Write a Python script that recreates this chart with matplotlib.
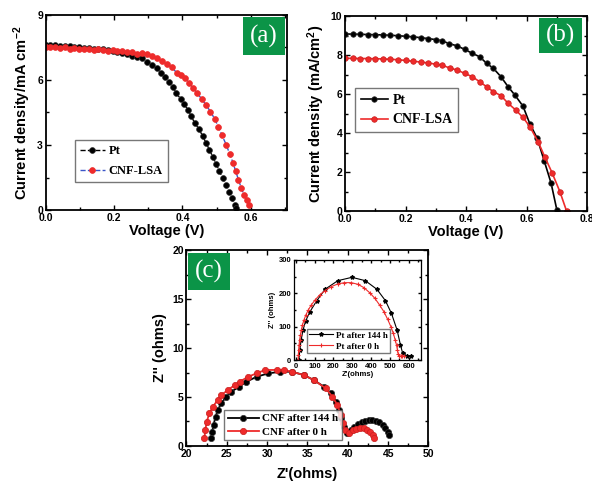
import matplotlib
matplotlib.use("Agg")
import matplotlib.pyplot as plt
from matplotlib.ticker import MultipleLocator
from matplotlib.patches import Rectangle

plt.rcParams['font.family'] = ['Liberation Sans', 'DejaVu Sans']
plt.rcParams['font.weight'] = 'bold'
plt.rcParams['axes.labelweight'] = 'bold'
plt.rcParams['mathtext.fontset'] = 'custom'
plt.rcParams['mathtext.rm'] = 'Liberation Sans:bold'
plt.rcParams['mathtext.it'] = 'Liberation Sans:bold'
plt.rcParams['mathtext.bf'] = 'Liberation Sans:bold'

RED = '#ee2b2b'
GREEN = '#0b9447'
SERIF = 'Liberation Serif'

# --- (a) J-V curves ---
v_pt_a = [0.000, 0.014, 0.028, 0.042, 0.056, 0.070, 0.084, 0.098, 0.112, 0.126, 0.140, 0.154,
          0.168, 0.182, 0.196, 0.210, 0.224, 0.238, 0.252, 0.266, 0.281, 0.296, 0.310, 0.325,
          0.337, 0.349, 0.360, 0.371, 0.382, 0.395, 0.405, 0.416, 0.426, 0.436, 0.449, 0.459,
          0.469, 0.479, 0.489, 0.498, 0.508, 0.518, 0.528, 0.536, 0.544, 0.553, 0.558]
j_pt_a = [7.62, 7.60, 7.63, 7.58, 7.55, 7.56, 7.52, 7.50, 7.48, 7.47, 7.45, 7.43,
          7.42, 7.38, 7.35, 7.30, 7.25, 7.18, 7.12, 7.06, 7.00, 6.85, 6.69, 6.54,
          6.34, 6.15, 5.92, 5.69, 5.40, 5.12, 4.90, 4.62, 4.32, 4.02, 3.72, 3.42,
          3.10, 2.78, 2.45, 2.14, 1.80, 1.46, 1.14, 0.85, 0.54, 0.23, 0.08]

v_cnf_a = [0.000, 0.014, 0.028, 0.042, 0.056, 0.070, 0.084, 0.098, 0.112, 0.126, 0.140, 0.154,
           0.168, 0.182, 0.196, 0.210, 0.224, 0.238, 0.252, 0.266, 0.281, 0.296, 0.310, 0.325,
           0.339, 0.354, 0.369, 0.383, 0.396, 0.408, 0.420, 0.432, 0.444, 0.457, 0.469, 0.482,
           0.494, 0.505, 0.516, 0.528, 0.538, 0.548, 0.556, 0.564, 0.572, 0.580, 0.588, 0.595]
j_cnf_a = [7.52, 7.50, 7.50, 7.47, 7.50, 7.45, 7.46, 7.43, 7.45, 7.41, 7.40, 7.42,
           7.37, 7.36, 7.38, 7.32, 7.34, 7.28, 7.30, 7.22, 7.26, 7.18, 7.11, 7.00,
           6.89, 6.74, 6.58, 6.34, 6.25, 6.08, 5.85, 5.62, 5.38, 5.11, 4.85, 4.54,
           4.22, 3.84, 3.44, 3.02, 2.60, 2.18, 1.78, 1.40, 1.02, 0.70, 0.45, 0.22]

# --- (b) J-V curves ---
v_pt_b = [0.000, 0.025, 0.050, 0.075, 0.100, 0.125, 0.150, 0.175, 0.200, 0.225, 0.250, 0.275,
          0.300, 0.320, 0.345, 0.370, 0.395, 0.420, 0.445, 0.468, 0.490, 0.515, 0.539, 0.561,
          0.588, 0.611, 0.635, 0.658, 0.681, 0.700]
j_pt_b = [9.08, 9.07, 9.06, 9.05, 9.04, 9.03, 9.01, 8.99, 8.96, 8.93, 8.89, 8.84,
          8.79, 8.73, 8.58, 8.47, 8.29, 8.09, 7.91, 7.57, 7.32, 6.89, 6.37, 5.95,
          5.38, 4.46, 3.73, 2.58, 1.42, 0.05]

v_cnf_b = [0.000, 0.025, 0.050, 0.075, 0.100, 0.125, 0.150, 0.175, 0.200, 0.225, 0.250, 0.275,
           0.300, 0.320, 0.347, 0.370, 0.395, 0.420, 0.445, 0.468, 0.490, 0.515, 0.539, 0.564,
           0.588, 0.611, 0.638, 0.660, 0.685, 0.710, 0.732]
j_cnf_b = [7.83, 7.83, 7.82, 7.82, 7.81, 7.80, 7.78, 7.76, 7.72, 7.68, 7.64, 7.59,
           7.53, 7.48, 7.33, 7.23, 7.06, 6.89, 6.63, 6.37, 6.12, 5.92, 5.52, 5.18,
           4.80, 4.32, 3.55, 2.78, 1.93, 0.99, 0.00]

# --- (c) Nyquist, CNF ---
zre_cnf144 = [23.06, 23.18, 23.35, 23.60, 23.88, 24.31, 24.94, 25.56, 26.52, 27.44, 28.70, 30.15,
              31.62, 33.08, 34.54, 35.79, 37.04, 37.88, 38.51, 38.92, 39.14, 39.47, 39.89, 40.35,
              40.80, 41.25, 41.70, 42.15, 42.60, 43.05, 43.50, 43.90, 44.30, 44.65, 44.95, 45.15]
zim_cnf144 = [0.79, 1.46, 2.14, 2.99, 3.67, 4.36, 5.03, 5.54, 6.05, 6.56, 7.07, 7.41,
              7.58, 7.58, 7.24, 6.73, 6.05, 5.37, 4.52, 3.67, 2.82, 1.97, 1.30, 1.62,
              1.95, 2.22, 2.42, 2.55, 2.63, 2.65, 2.56, 2.40, 2.15, 1.85, 1.45, 1.12]

zre_cnf0 = [22.22, 22.34, 22.50, 22.85, 23.26, 23.88, 24.31, 25.14, 25.98, 26.60, 27.65, 28.70,
            29.74, 31.20, 32.03, 33.08, 34.54, 35.79, 37.25, 38.09, 38.71, 39.14, 39.35, 39.64,
            40.18, 40.60, 41.05, 41.50, 41.95, 42.40, 42.80, 43.10, 43.30]
zim_cnf0 = [0.79, 1.63, 2.48, 3.33, 4.01, 4.69, 5.20, 5.71, 6.22, 6.56, 7.07, 7.42,
            7.76, 7.76, 7.76, 7.58, 7.24, 6.73, 5.89, 5.03, 4.18, 3.16, 2.32, 1.63,
            1.36, 1.62, 1.76, 1.82, 1.80, 1.68, 1.45, 1.10, 0.79]

# --- (c) inset, Pt ---
zre_pt144 = [16, 21, 28, 38, 52, 75, 110, 155, 223, 298, 369, 431, 476, 508, 538, 556, 568, 592, 610]
zim_pt144 = [0, 30, 60, 90, 117, 145, 177, 212, 238, 248, 238, 212, 178, 140, 90, 45, 20, 12, 12]

zre_pt0 = [12, 13, 15, 17, 20, 24, 29, 35, 43, 53, 66, 82, 102, 126, 155, 188, 222, 258, 295,
           330, 362, 392, 420, 445, 468, 488, 505, 518, 528, 535, 540, 544, 550, 558, 566, 575]
zim_pt0 = [0, 15, 30, 45, 60, 75, 90, 105, 120, 135, 150, 165, 180, 195, 208, 220, 228, 232, 232,
           227, 217, 202, 185, 165, 145, 122, 100, 80, 60, 45, 30, 18, 12, 12, 12, 12]


def style_axes(ax, xmaj, xmin, ymaj, ymin, size=7.5):
    ax.xaxis.set_major_locator(MultipleLocator(xmaj))
    ax.xaxis.set_minor_locator(MultipleLocator(xmin))
    ax.yaxis.set_major_locator(MultipleLocator(ymaj))
    ax.yaxis.set_minor_locator(MultipleLocator(ymin))
    ax.tick_params(which='both', direction='in', top=True, right=True, width=1.0,
                   labelsize=size, pad=2)
    ax.tick_params(which='major', length=3.5)
    ax.tick_params(which='minor', length=2)
    for lab in ax.get_xticklabels() + ax.get_yticklabels():
        lab.set_fontweight('bold')
    for s in ax.spines.values():
        s.set_linewidth(1.3)


def panel_tag(ax, rect, text, size=18):
    x0, y0, w, h = rect
    ax.add_patch(Rectangle((x0, y0), w, h, transform=ax.transAxes,
                           facecolor=GREEN, edgecolor='none', zorder=5))
    ax.text(x0 + w / 2, y0 + h / 2, text, transform=ax.transAxes, color='white',
            fontsize=size, family=SERIF, fontweight='normal', ha='center', va='center', zorder=6)


fig = plt.figure(figsize=(5.92, 4.82), dpi=100)

# (a)
ax1 = fig.add_axes([0.0772, 0.5643, 0.4076, 0.4046])
ax1.plot(v_pt_a, j_pt_a, '--', color='black', lw=1.0, marker='o', ms=4.2,
         mfc='black', mec='#333333', mew=0.5, label='Pt')
ax1.plot(v_cnf_a, j_cnf_a, '--', color='#3a55c8', lw=1.0, marker='o', ms=4.2,
         mfc=RED, mec=RED, mew=0.5, label='CNF-LSA')
ax1.set_xlim(0, 0.706)
ax1.set_ylim(0, 9)
style_axes(ax1, 0.2, 0.1, 3, 1.5)
ax1.set_xlabel('Voltage (V)', fontsize=10.5, fontweight='bold', labelpad=1)
ax1.set_ylabel('Current density/mA cm$^{-2}$', fontsize=10.5, fontweight='bold', labelpad=3)
ax1.legend(loc='lower left', bbox_to_anchor=(0.121, 0.144), borderaxespad=0, frameon=True,
           fancybox=False, edgecolor='#555555',
           prop={'family': SERIF, 'weight': 'bold', 'size': 9},
           handlelength=2.0, handletextpad=0.3, borderpad=0.4, labelspacing=0.6)
panel_tag(ax1, (0.818, 0.795, 0.174, 0.195), '(a)')

# (b)
ax2 = fig.add_axes([0.5828, 0.5622, 0.409, 0.4046])
ax2.plot(v_pt_b, j_pt_b, '-', color='black', lw=1.2, marker='o', ms=4.0,
         mfc='black', mec='#333333', mew=0.5, label='Pt')
ax2.plot(v_cnf_b, j_cnf_b, '-', color=RED, lw=1.2, marker='o', ms=4.0,
         mfc=RED, mec='#c81e1e', mew=0.5, label='CNF-LSA')
ax2.set_xlim(0, 0.8)
ax2.set_ylim(0, 10)
style_axes(ax2, 0.2, 0.1, 2, 1)
ax2.set_xlabel('Voltage (V)', fontsize=10.5, fontweight='bold', labelpad=1)
ax2.set_ylabel('Current density (mA/cm$^2$)', fontsize=10.5, fontweight='bold', labelpad=3)
ax2.legend(loc='lower left', bbox_to_anchor=(0.041, 0.405), borderaxespad=0, frameon=True,
           fancybox=False, edgecolor='#555555',
           prop={'family': SERIF, 'weight': 'bold', 'size': 10},
           handlelength=2.0, handletextpad=0.3, borderpad=0.4, labelspacing=0.5)
panel_tag(ax2, (0.80, 0.81, 0.18, 0.18), '(b)')

# (c)
ax3 = fig.add_axes([0.3150, 0.0747, 0.4088, 0.4066])
ax3.plot(zre_cnf144, zim_cnf144, '-', color='black', lw=1.3, marker='o', ms=4.5,
         mfc='black', mec='#333333', mew=0.5, label='CNF after 144 h')
ax3.plot(zre_cnf0, zim_cnf0, '-', color=RED, lw=1.3, marker='o', ms=4.5,
         mfc=RED, mec='#c81e1e', mew=0.5, label='CNF after 0 h')
ax3.set_xlim(20, 50)
ax3.set_ylim(0, 20)
style_axes(ax3, 5, 2.5, 5, 2.5)
ax3.set_xlabel("Z'(ohms)", fontsize=10.5, fontweight='bold', labelpad=6)
ax3.set_ylabel("Z'' (ohms)", fontsize=10.5, fontweight='bold', labelpad=4)
ax3.legend(loc='lower left', bbox_to_anchor=(0.157, 0.031), borderaxespad=0, frameon=True,
           fancybox=False, edgecolor='#555555',
           prop={'family': SERIF, 'weight': 'bold', 'size': 8},
           handlelength=2.8, handletextpad=0.3, borderpad=0.3, labelspacing=0.3)
panel_tag(ax3, (0.005, 0.796, 0.173, 0.189), '(c)')

# inset
ax4 = fig.add_axes([0.4966, 0.2531, 0.2145, 0.2075])
ax4.plot(zre_pt144, zim_pt144, '-', color='black', lw=0.8, marker='*', ms=3, label='Pt after 144 h')
ax4.plot(zre_pt0, zim_pt0, '-', color=RED, lw=0.8, marker='+', ms=3, mew=0.8, label='Pt after 0 h')
ax4.set_xlim(-10, 665)
ax4.set_ylim(0, 300)
style_axes(ax4, 100, 50, 100, 50, size=5.5)
ax4.tick_params(which='major', length=2.5)
ax4.tick_params(which='minor', length=1.5)
for s in ax4.spines.values():
    s.set_linewidth(0.9)
ax4.set_xlabel("Z'(ohms)", fontsize=5.5, fontweight='bold', labelpad=1)
ax4.set_ylabel("Z'' (ohms)", fontsize=5.5, fontweight='bold', labelpad=2)
ax4.legend(loc='lower left', bbox_to_anchor=(0.1, 0.067), borderaxespad=0, frameon=True,
           fancybox=False, edgecolor='#555555',
           prop={'family': SERIF, 'weight': 'bold', 'size': 6.5},
           handlelength=2.6, handletextpad=0.3, borderpad=0.3, labelspacing=0.3)

fig.savefig('out.png', dpi=100)
